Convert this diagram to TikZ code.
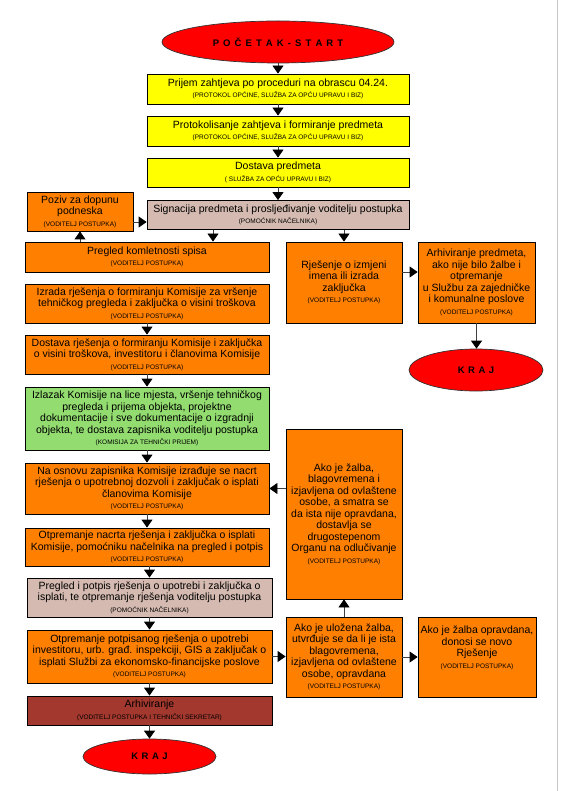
\documentclass[tikz,border=0pt]{standalone}
\usepackage{fontspec}
\setmainfont{Liberation Sans}
\usetikzlibrary{arrows.meta,shapes.geometric}
\definecolor{cyel}{RGB}{255,255,0}
\definecolor{corg}{RGB}{255,128,0}
\definecolor{ctan}{RGB}{212,186,176}
\definecolor{cgrn}{RGB}{146,220,112}
\definecolor{cbrn}{RGB}{163,56,46}
\definecolor{cred}{RGB}{255,0,0}
\newcommand{\smalltag}[1]{{\fontsize{6.5}{11.5}\selectfont #1}}
\newcommand{\gp}{\hspace{4.1pt}}
\newcommand{\kg}{\hspace{3.5pt}}
\begin{document}
\begin{tikzpicture}[x=1pt,y=-1pt,
  box/.style={draw=black, line width=0.8pt, rectangle, inner sep=0pt, align=center,
    font=\fontsize{10.5}{11.5}\selectfont, text=black},
  term/.style={draw=black!80, line width=0.7pt, ellipse, fill=cred, inner sep=0pt,
    font=\fontsize{9.5}{11}\selectfont\bfseries},
  arr/.style={draw=black!75, line width=0.8pt, -{Triangle[length=8pt,width=11pt,color=black]}}]
\useasboundingbox (0,0) rectangle (560,791);
\fill[white] (0,0) rectangle (560,791);
\draw[gray!45, line width=1pt] (557,0) -- (557,791);

% terminals
\node[term, minimum width=232pt, minimum height=42pt] (start) at (278,42)
  {P\gp O\gp Č\gp E\gp T\gp A\gp K\gp -\gp S\gp T\gp A\gp R\gp T};
\node[term, minimum width=134pt, minimum height=42pt] (kraja) at (476,370) {K\kg R\kg A\kg J};
\node[term, minimum width=133pt, minimum height=35pt] (krajb) at (149.5,756.5) {K\kg R\kg A\kg J};

% top column
\node[box, fill=cyel, minimum width=262pt, minimum height=30pt] (b1) at (278,89)
  {Prijem zahtjeva po proceduri na obrascu 04.24.\\ \smalltag{(PROTOKOL OPĆINE, SLUŽBA ZA OPĆU UPRAVU I BIZ)}};
\node[box, fill=cyel, minimum width=262pt, minimum height=30pt] (b2) at (278,131)
  {Protokolisanje zahtjeva i formiranje predmeta\\ \smalltag{(PROTOKOL OPĆINE, SLUŽBA ZA OPĆU UPRAVU I BIZ)}};
\node[box, fill=cyel, minimum width=262pt, minimum height=29pt] (b3) at (278,172.5)
  {Dostava predmeta\\ \smalltag{( SLUŽBA ZA OPĆU UPRAVU I BIZ)}};
\node[box, fill=ctan, minimum width=262pt, minimum height=29pt] (sig) at (278,215)
  {Signacija predmeta i prosljeđivanje voditelju postupka\\ \smalltag{(POMOĆNIK NAČELNIKA)}};
\node[box, fill=corg, minimum width=106pt, minimum height=39pt] (poziv) at (80,211.5)
  {Poziv za dopunu\\ podneska\\ \smalltag{(VODITELJ POSTUPKA)}};

% left column
\node[box, fill=corg, minimum width=244pt, minimum height=30pt] (preg) at (147,257)
  {Pregled komletnosti spisa\\ \smalltag{(VODITELJ POSTUPKA)}};
\node[box, fill=corg, minimum width=244pt, minimum height=39pt] (izrada) at (147,303.5)
  {Izrada rješenja o formiranju Komisije za vršenje\\ tehničkog pregleda i zaključka o visini troškova\\ \smalltag{(VODITELJ POSTUPKA)}};
\node[box, fill=corg, minimum width=244pt, minimum height=39pt] (dost) at (147,354.5)
  {Dostava rješenja o formiranju Komisije i zaključka\\ o visini troškova, investitoru i članovima Komisije\\ \smalltag{(VODITELJ POSTUPKA)}};
\node[box, fill=cgrn, minimum width=244pt, minimum height=63pt] (izlazak) at (147,418.5)
  {Izlazak Komisije na lice mjesta, vršenje tehničkog\\ pregleda i prijema objekta, projektne\\ dokumentacije i sve dokumentacije o izgradnji\\ objekta, te dostava zapisnika voditelju postupka\\ \smalltag{(KOMISIJA ZA TEHNIČKI PRIJEM)}};
\node[box, fill=corg, minimum width=244pt, minimum height=51pt] (naosnovu) at (147,488.5)
  {Na osnovu zapisnika Komisije izrađuje se nacrt\\ rješenja o upotrebnoj dozvoli i zaključak o isplati\\ članovima Komisije\\ \smalltag{(VODITELJ POSTUPKA)}};
\node[box, fill=corg, minimum width=244pt, minimum height=38pt] (otpn) at (147,547)
  {Otpremanje nacrta rješenja i zaključka o isplati\\ Komisije, pomoćniku načelnika na pregled i potpis\\ \smalltag{(VODITELJ POSTUPKA)}};
\node[box, fill=ctan, minimum width=245pt, minimum height=39pt] (pregp) at (149.5,597.5)
  {Pregled i potpis rješenja o upotrebi i zaključka o\\ isplati, te otpremanje rješenja voditelju postupka\\ \smalltag{(POMOĆNIK NAČELNIKA)}};
\node[box, fill=corg, minimum width=245pt, minimum height=53pt] (otpp) at (149.5,656.5)
  {Otpremanje potpisanog rješenja o upotrebi\\ investitoru, urb. građ. inspekciji, GIS a zaključak o\\ isplati Službi za ekonomsko-financijske poslove\\ \smalltag{(VODITELJ POSTUPKA)}};
\node[box, fill=cbrn, minimum width=245pt, minimum height=29pt] (arh) at (149.5,710.5)
  {Arhiviranje\\ \smalltag{(VODITELJ POSTUPKA I TEHNIČKI SEKRETAR)}};

% right columns
\node[box, fill=corg, minimum width=116pt, minimum height=81pt] (rjes) at (344,282.5)
  {Rješenje o izmjeni\\ imena ili izrada\\ zaključka\\ \smalltag{(VODITELJ POSTUPKA)}};
\node[box, fill=corg, minimum width=117pt, minimum height=81pt] (arhp) at (476.5,282.5)
  {Arhiviranje predmeta,\\ ako nije bilo žalbe i\\ otpremanje\\ u Službu za zajedničke\\ i komunalne poslove\\ \smalltag{(VODITELJ POSTUPKA)}};
\node[box, fill=corg, minimum width=116pt, minimum height=170pt] (tall) at (344,514)
  {Ako je žalba,\\ blagovremena i\\ izjavljena od ovlaštene\\ osobe, a smatra se\\ da ista nije opravdana,\\ dostavlja se\\ drugostepenom\\ Organu na odlučivanje\\ \smalltag{(VODITELJ POSTUPKA)}};
\node[box, fill=corg, minimum width=116pt, minimum height=80pt] (ulozena) at (344,657)
  {Ako je uložena žalba,\\ utvrđuje se da li je ista\\ blagovremena,\\ izjavljena od ovlaštene\\ osobe, opravdana\\ \smalltag{(VODITELJ POSTUPKA)}};
\node[box, fill=corg, minimum width=118pt, minimum height=80pt] (opravd) at (477,657)
  {Ako je žalba opravdana,\\ donosi se novo\\ Rješenje\\ \smalltag{(VODITELJ POSTUPKA)}\\[8pt]};

% connectors
\draw[arr] (start) -- (b1);
\draw[arr] (b1) -- (b2);
\draw[arr] (b2) -- (b3);
\draw[arr] (b3) -- (sig);
\coordinate (pz) at ([yshift=-10.5pt]poziv.east);
\draw[arr] (pz) -- (pz -| sig.west);
\draw[arr] (poziv.south |- preg.north) -- (poziv.south);
\coordinate (sp) at ([xshift=-65pt]sig.south);
\draw[arr] (sp) -- (sp |- preg.north);
\draw[arr] (sig.south -| rjes.north) -- (rjes.north);
\coordinate (rj) at ([yshift=10.5pt]rjes.east);
\draw[arr] (rj) -- (rj -| arhp.west);
\draw[arr] (arhp.south) -- (arhp.south |- kraja.north);
\draw[arr] (izrada) -- (dost);
\draw[arr] (dost) -- (izlazak);
\draw[arr] (izlazak) -- (naosnovu);
\draw[arr] (naosnovu) -- (otpn);
\draw[arr] (otpn.south -| pregp.north) -- (pregp.north);
\draw[arr] (pregp) -- (otpp);
\draw[arr] (otpp) -- (arh);
\draw[arr] (arh) -- (krajb);
\draw[arr] (tall.west |- naosnovu.east) -- (naosnovu.east);
\draw[arr] (ulozena) -- (tall);
\draw[arr] (otpp.east) -- (otpp.east -| ulozena.west);
\draw[arr] (ulozena) -- (opravd);
\end{tikzpicture}
\end{document}
